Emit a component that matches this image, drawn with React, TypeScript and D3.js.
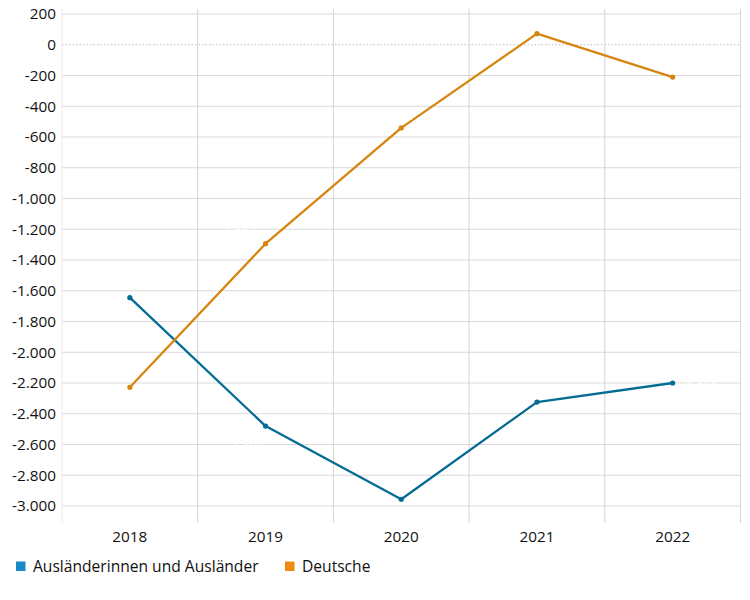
import React from "react";
import * as d3 from "d3";

const years = ["2018", "2019", "2020", "2021", "2022"];
const auslaender = [-1645, -2480, -2956, -2324, -2200];
const deutsche = [-2228, -1294, -541, 72, -210];
const yTicks = [200, 0, -200, -400, -600, -800, -1000, -1200, -1400, -1600, -1800, -2000, -2200, -2400, -2600, -2800, -3000];
const seriesNames = ["Ausländerinnen und Ausländer", "Deutsche"];

const W = 750;
const H = 600;
const left = 62;
const right = 740.5;
const top = 9;
const bottom = 523;

const locale = d3.formatLocale({ decimal: ",", thousands: ".", grouping: [3], currency: ["", "€"], minus: "-" });
const fmt = locale.format(",d");

export default function App() {
  const x = d3.scaleBand<string>().domain(years).range([left, right]).padding(0);
  const y = d3.scaleLinear().domain([-3000, 200]).range([506, 14]);
  const cx = (d: string) => (x(d) as number) + x.bandwidth() / 2;
  const line = d3
    .line<number>()
    .x((_, i) => cx(years[i]))
    .y((v) => y(v));

  const font = "'Open Sans', 'Noto Sans', sans-serif";
  const lineColors = ["#046b93", "#d6860e"];
  const swatchColors = ["#1a89c8", "#ef8b12"];
  const series = [auslaender, deutsche];

  const labelPos = [
    [
      { dx: 0, dy: -12, anchor: "middle" },
      { dx: -20, dy: 20, anchor: "middle" },
      { dx: 0, dy: 12, anchor: "middle" },
      { dx: -18, dy: -14, anchor: "middle" },
      { dx: 8, dy: 4, anchor: "start" },
    ],
    [
      { dx: 0, dy: 16, anchor: "middle" },
      { dx: -28, dy: -10, anchor: "middle" },
      { dx: 0, dy: -12, anchor: "middle" },
      { dx: 0, dy: -12, anchor: "middle" },
      { dx: 8, dy: 4, anchor: "start" },
    ],
  ];

  return (
    <svg width={W} height={H} style={{ position: "absolute", left: 0, top: 0, background: "#fff" }} fontFamily={font}>
      <rect x={0} y={0} width={W} height={H} fill="#fff" />
      {yTicks.map((t) => (
        <line
          key={"g" + t}
          x1={left}
          x2={right}
          y1={y(t)}
          y2={y(t)}
          stroke={t === 0 ? "#bdbdbd" : "#d9d9d9"}
          strokeWidth={1}
          strokeDasharray={t === 0 ? "1.5,2" : undefined}
        />
      ))}
      {years.map((yr, i) => (
        <line key={"v" + yr} x1={(x(yr) as number)} x2={(x(yr) as number)} y1={top} y2={bottom} stroke={i === 0 ? "#ececec" : "#d4d4d4"} />
      ))}
      <line x1={right} x2={right} y1={top} y2={bottom} stroke="#d4d4d4" />
      {yTicks.map((t) => (
        <text key={"t" + t} x={56} y={y(t)} dy="0.35em" textAnchor="end" fontSize={15.3} fill="#111">
          {fmt(t)}
        </text>
      ))}
      {years.map((yr) => (
        <text key={"x" + yr} x={cx(yr)} y={542} textAnchor="middle" fontSize={15.3} fill="#111">
          {yr}
        </text>
      ))}
      {series.map((s, si) => (
        <g key={"s" + si}>
          <path d={line(s) as string} fill="none" stroke={lineColors[si]} strokeWidth={2.3} strokeLinejoin="round" />
          {s.map((v, i) => (
            <circle key={i} cx={cx(years[i])} cy={y(v)} r={2.6} fill={lineColors[si]} />
          ))}
          {s.map((v, i) => (
            <text
              key={"l" + i}
              x={cx(years[i]) + labelPos[si][i].dx}
              y={y(v) + labelPos[si][i].dy}
              dy="0.35em"
              textAnchor={labelPos[si][i].anchor as any}
              fontSize={13}
              fill="#fff"
            >
              {fmt(v)}
            </text>
          ))}
        </g>
      ))}
      {seriesNames.map((n, i) => {
        const lx = i === 0 ? 16 : 285;
        return (
          <g key={"lg" + i}>
            <rect x={lx} y={561.5} width={9.5} height={9.5} fill={swatchColors[i]} />
            <text x={lx + 17} y={566.5} dy="0.35em" fontSize={15.6} fill="#111">
              {n}
            </text>
          </g>
        );
      })}
    </svg>
  );
}
